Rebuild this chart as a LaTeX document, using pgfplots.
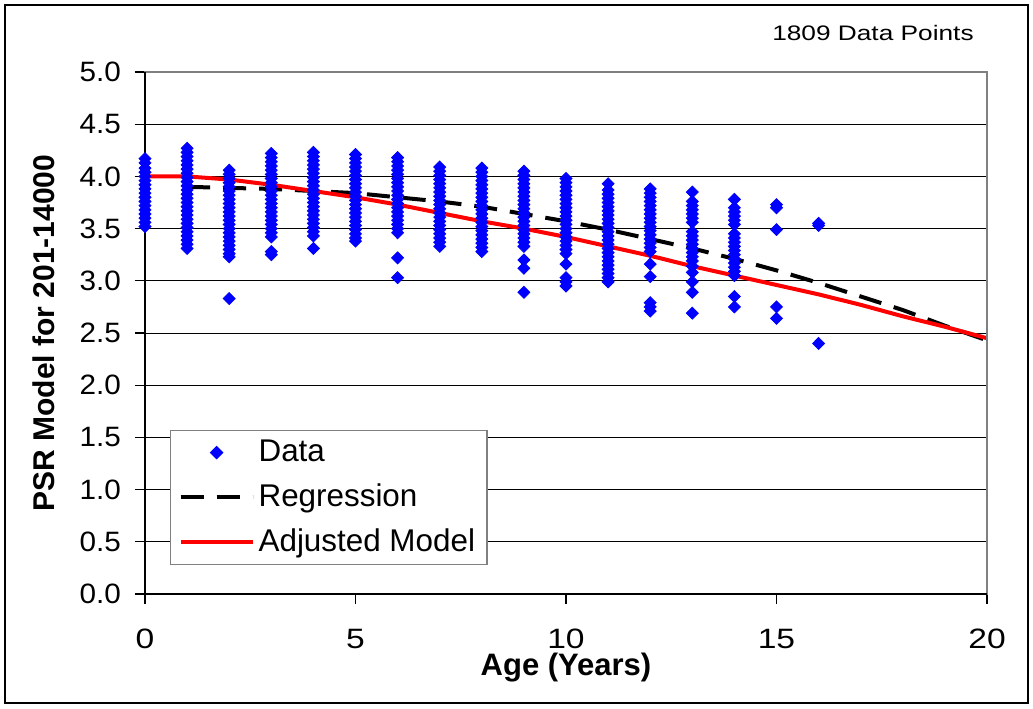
\documentclass[border=0pt]{standalone}
\usepackage{pgfplots}
\pgfplotsset{compat=1.18}
\usepackage{fontspec}
\setmainfont{Liberation Sans}
\newfontfamily\wide[FakeStretch=1.2]{Liberation Sans}
\newfontfamily\wideb[FakeStretch=1.06]{Liberation Sans}
\newfontfamily\widec[FakeStretch=1.25]{Liberation Sans}
\definecolor{dblue}{RGB}{0,0,255}
\definecolor{dred}{RGB}{255,0,0}
\pgfplotsset{
  lineimg/.style={legend image code/.code={\draw[##1] (0pt,0pt) -- (36pt,0pt);}},
  markimg/.style={legend image code/.code={\draw[mark repeat=2, mark phase=2, ##1] plot coordinates {(0pt,0pt) (18pt,0pt) (36pt,0pt)};}},
}
\begin{document}
\begin{tikzpicture}
\useasboundingbox (-72.5pt,-57pt) rectangle (444pt,297pt);
\draw[line width=0.6pt] (-70pt,-54.5pt) rectangle (441.5pt,294.5pt);
\begin{axis}[at={(0,0)}, anchor=south west, scale only axis, width=421pt, height=261pt,
  xmin=0, xmax=20, ymin=0, ymax=5,
  xtick={0,5,10,15,20}, ytick={0,0.5,1,1.5,2,2.5,3,3.5,4,4.5,5},
  /pgf/number format/assume math mode=true,
  xticklabel style={font=\wide\fontsize{14}{16}\selectfont, yshift=-9pt},
  yticklabel style={font=\wideb\fontsize{14}{16}\selectfont, xshift=-3.5pt, /pgf/number format/.cd, fixed, fixed zerofill, precision=1},
  tick align=outside, major tick length=5pt, tick style={black, line width=0.6pt},
  xtick pos=bottom, ytick pos=left,
  ymajorgrids, grid style={black, line width=0.5pt},
  axis line style={gray, line width=0.6pt},
  clip=false,
  xlabel={\bfseries Age (Years)},
  xlabel style={at={(axis description cs:0.5,-0.1418)}, anchor=center, font=\fontsize{15.5}{18}\selectfont},
  ylabel={\bfseries PSR Model for 201-14000},
  ylabel style={at={(axis description cs:-0.12,0.5)}, anchor=center, font=\fontsize{15}{18}\selectfont},
  legend style={at={(axis description cs:0.0297,0.0556)}, anchor=south west, draw=gray, line width=0.6pt,
    font=\fontsize{15.7}{18}\selectfont, row sep=5.5pt, inner xsep=4pt, inner ysep=3pt,
    /tikz/every even column/.append style={column sep=4pt}},
  legend cell align=left,
]
\addplot[only marks, mark=diamond*, mark size=3pt, color=dblue, mark options={xscale=1.33}, markimg]
coordinates {
(0,4.17) (0,4.13) (0,4.08) (0,4.04) (0,4.00) (0,3.96) (0,3.92) (0,3.88) (0,3.84) (0,3.80) (0,3.76) (0,3.72) (0,3.68) (0,3.64) (0,3.60) (0,3.56) (0,3.52)
(1,4.27) (1,4.23) (1,4.19) (1,4.15) (1,4.11) (1,4.07) (1,4.03) (1,3.99) (1,3.95) (1,3.91) (1,3.87) (1,3.83) (1,3.79) (1,3.75) (1,3.71) (1,3.67) (1,3.63) (1,3.59) (1,3.55) (1,3.51) (1,3.47) (1,3.43) (1,3.39) (1,3.35) (1,3.31)
(2,4.06) (2,4.02) (2,3.98) (2,3.94) (2,3.90) (2,3.86) (2,3.82) (2,3.78) (2,3.74) (2,3.70) (2,3.66) (2,3.62) (2,3.58) (2,3.54) (2,3.50) (2,3.46) (2,3.42) (2,3.38) (2,3.34) (2,3.30) (2,3.26) (2,3.23) (2,2.83)
(3,4.22) (3,4.18) (3,4.14) (3,4.10) (3,4.06) (3,4.02) (3,3.98) (3,3.94) (3,3.90) (3,3.86) (3,3.82) (3,3.78) (3,3.74) (3,3.70) (3,3.66) (3,3.62) (3,3.58) (3,3.54) (3,3.50) (3,3.46) (3,3.42) (3,3.28) (3,3.25)
(4,4.23) (4,4.19) (4,4.15) (4,4.11) (4,4.07) (4,4.03) (4,3.99) (4,3.95) (4,3.91) (4,3.87) (4,3.83) (4,3.79) (4,3.75) (4,3.71) (4,3.67) (4,3.63) (4,3.59) (4,3.55) (4,3.51) (4,3.47) (4,3.43) (4,3.31)
(5,4.21) (5,4.17) (5,4.13) (5,4.09) (5,4.05) (5,4.01) (5,3.97) (5,3.93) (5,3.89) (5,3.85) (5,3.81) (5,3.77) (5,3.73) (5,3.69) (5,3.65) (5,3.61) (5,3.57) (5,3.53) (5,3.49) (5,3.45) (5,3.41) (5,3.38)
(6,4.18) (6,4.14) (6,4.10) (6,4.06) (6,4.02) (6,3.98) (6,3.94) (6,3.90) (6,3.86) (6,3.82) (6,3.78) (6,3.74) (6,3.70) (6,3.66) (6,3.62) (6,3.58) (6,3.54) (6,3.50) (6,3.46) (6,3.22) (6,3.03)
(7,4.09) (7,4.05) (7,4.01) (7,3.97) (7,3.93) (7,3.89) (7,3.85) (7,3.81) (7,3.77) (7,3.73) (7,3.69) (7,3.65) (7,3.61) (7,3.57) (7,3.53) (7,3.49) (7,3.45) (7,3.41) (7,3.37) (7,3.33)
(8,4.08) (8,4.04) (8,4.00) (8,3.96) (8,3.92) (8,3.88) (8,3.84) (8,3.80) (8,3.76) (8,3.72) (8,3.68) (8,3.64) (8,3.60) (8,3.56) (8,3.52) (8,3.48) (8,3.44) (8,3.40) (8,3.36) (8,3.32) (8,3.28)
(9,4.05) (9,4.01) (9,3.97) (9,3.93) (9,3.89) (9,3.85) (9,3.81) (9,3.77) (9,3.73) (9,3.69) (9,3.65) (9,3.61) (9,3.57) (9,3.53) (9,3.49) (9,3.45) (9,3.41) (9,3.37) (9,3.33) (9,3.20) (9,3.12) (9,2.89)
(10,3.98) (10,3.94) (10,3.90) (10,3.86) (10,3.82) (10,3.78) (10,3.74) (10,3.70) (10,3.66) (10,3.62) (10,3.58) (10,3.54) (10,3.50) (10,3.46) (10,3.42) (10,3.38) (10,3.34) (10,3.30) (10,3.26) (10,3.16) (10,3.03) (10,2.99) (10,2.95)
(11,3.93) (11,3.87) (11,3.83) (11,3.79) (11,3.75) (11,3.71) (11,3.67) (11,3.63) (11,3.59) (11,3.55) (11,3.51) (11,3.47) (11,3.43) (11,3.39) (11,3.35) (11,3.31) (11,3.27) (11,3.23) (11,3.19) (11,3.15) (11,3.11) (11,3.07) (11,3.03) (11,2.99)
(12,3.88) (12,3.84) (12,3.80) (12,3.76) (12,3.72) (12,3.68) (12,3.64) (12,3.60) (12,3.56) (12,3.52) (12,3.48) (12,3.44) (12,3.40) (12,3.36) (12,3.32) (12,3.28) (12,3.16) (12,3.04) (12,2.79) (12,2.75) (12,2.71)
(13,3.85) (13,3.76) (13,3.72) (13,3.68) (13,3.64) (13,3.60) (13,3.56) (13,3.47) (13,3.43) (13,3.39) (13,3.35) (13,3.31) (13,3.27) (13,3.23) (13,3.19) (13,3.14) (13,3.08) (13,2.99) (13,2.89) (13,2.69)
(14,3.78) (14,3.70) (14,3.66) (14,3.62) (14,3.58) (14,3.54) (14,3.45) (14,3.41) (14,3.37) (14,3.33) (14,3.29) (14,3.25) (14,3.21) (14,3.17) (14,3.13) (14,3.09) (14,3.05) (14,2.85) (14,2.75)
(15,3.73) (15,3.70) (15,3.49) (15,2.75) (15,2.64)
(16,3.55) (16,3.53) (16,2.40)
};
\addlegendentry{Data}
\addplot[black, line width=2pt, dash pattern=on 11.5pt off 6.5pt, lineimg]
coordinates {
(1,3.90) (2,3.89) (3,3.88) (4,3.86) (5,3.84) (6,3.80) (7,3.76) (8,3.71) (9,3.64) (10,3.57)
(11,3.49) (12,3.40) (13,3.31) (14,3.21) (15,3.10) (16,2.98) (17,2.85) (18,2.72) (19,2.57) (20,2.43)
};
\addlegendentry{Regression}
\addplot[dred, line width=2pt, lineimg]
coordinates {
(0,4.00) (1,4.00) (2,3.97) (3,3.92) (4,3.86) (5,3.80) (6,3.73) (7,3.65) (8,3.57) (9,3.50) (10,3.42)
(11,3.33) (12,3.24) (13,3.14) (14,3.05) (15,2.96) (16,2.87) (17,2.77) (18,2.66) (19,2.56) (20,2.45)
};
\addlegendentry{Adjusted Model}
\draw[gray, line width=0.6pt] (rel axis cs:0,1) -- (rel axis cs:1,1) -- (rel axis cs:1,0);
\draw[black, line width=1pt] (rel axis cs:0,1) -- (rel axis cs:0,0) -- (rel axis cs:1,0);
\node[font=\widec\fontsize{10.5}{12}\selectfont, anchor=center] at (axis description cs:0.8646,1.0747) {1809 Data Points};
\end{axis}
\end{tikzpicture}
\end{document}
